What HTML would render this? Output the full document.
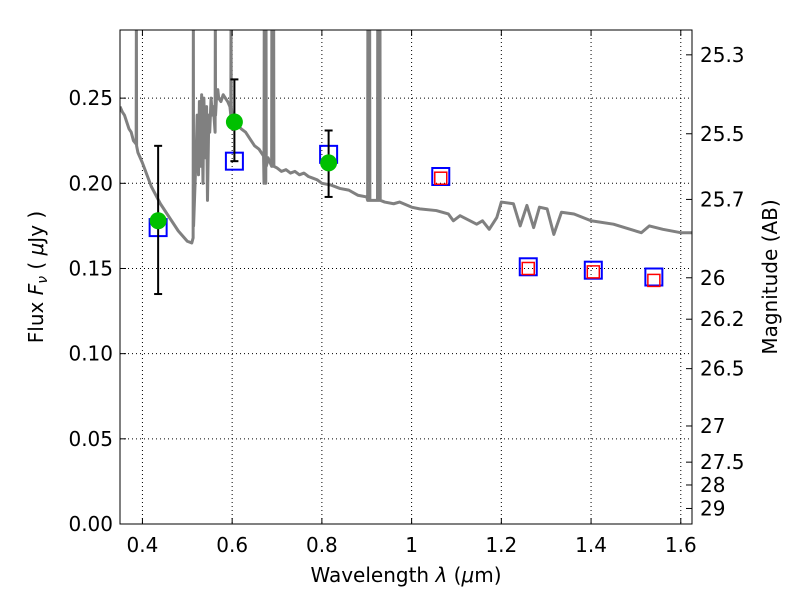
<!DOCTYPE html>
<html><head><meta charset="utf-8"><style>
body{margin:0;background:#fff}
svg text{font-family:"DejaVu Sans","Liberation Sans",sans-serif;font-size:20px;fill:#000}
</style></head><body>
<svg id="chart" width="800" height="600" xmlns="http://www.w3.org/2000/svg">
<rect width="800" height="600" fill="#fff"/>
<g id="grid"></g>
<g id="spec"></g>
<g id="marks"></g>
<g id="axes"></g>
</svg>
<script>
const xTicks=[0.4,0.6,0.8,1.0,1.2,1.4,1.6];
const xTickLabels=["0.4","0.6","0.8","1","1.2","1.4","1.6"];
const yTicks=[0,0.05,0.10,0.15,0.20,0.25];
const yTickLabels=["0.00","0.05","0.10","0.15","0.20","0.25"];
const magTicks=[25.3,25.5,25.7,26,26.2,26.5,27,27.5,28,29];
const magLabels=["25.3","25.5","25.7","26","26.2","26.5","27","27.5","28","29"];
const obsLam=[0.435,0.605,0.815];
const obsFlux=[0.178,0.236,0.212];
const obsLo=[0.135,0.213,0.192];
const obsHi=[0.222,0.261,0.231];
const modLam=[0.435,0.605,0.815,1.065,1.26,1.405,1.54];
const modFlux=[0.174,0.213,0.217,0.204,0.151,0.149,0.145];
const redLam=[1.065,1.26,1.405,1.54];
const redFlux=[0.203,0.150,0.148,0.143];
const specLam=[0.35,0.355,0.36,0.365,0.37,0.375,0.38,0.386,0.3865,0.387,0.39,0.40,0.42,0.44,0.46,0.48,0.50,0.51,0.513,0.5135,0.514,0.516,0.52,0.522,0.525,0.527,0.53,0.532,0.535,0.537,0.54,0.543,0.545,0.548,0.55,0.553,0.556,0.558,0.562,0.5625,0.563,0.565,0.568,0.57,0.575,0.58,0.585,0.59,0.595,0.597,0.5975,0.598,0.60,0.61,0.62,0.63,0.64,0.65,0.66,0.67,0.671,0.6715,0.672,0.674,0.675,0.6755,0.676,0.678,0.68,0.688,0.6885,0.689,0.692,0.6925,0.693,0.70,0.71,0.72,0.73,0.74,0.75,0.76,0.77,0.78,0.79,0.80,0.82,0.84,0.86,0.88,0.90,0.902,0.9025,0.903,0.906,0.9065,0.907,0.915,0.924,0.9245,0.925,0.929,0.9295,0.93,0.94,0.96,0.973,1.0,1.018,1.055,1.082,1.093,1.108,1.145,1.158,1.173,1.19,1.2,1.227,1.242,1.257,1.272,1.285,1.302,1.317,1.334,1.362,1.4,1.45,1.512,1.53,1.56,1.6,1.625];
const specFlux=[0.245,0.242,0.24,0.236,0.232,0.23,0.225,0.223,0.3,0.222,0.218,0.212,0.198,0.188,0.18,0.172,0.166,0.165,0.168,0.3,0.175,0.19,0.22,0.24,0.205,0.248,0.21,0.252,0.2,0.25,0.215,0.245,0.19,0.24,0.23,0.25,0.24,0.245,0.23,0.3,0.24,0.25,0.255,0.25,0.248,0.252,0.25,0.248,0.245,0.24,0.3,0.245,0.24,0.235,0.232,0.23,0.226,0.222,0.22,0.216,0.2,0.3,0.215,0.215,0.2,0.3,0.21,0.212,0.215,0.21,0.3,0.21,0.21,0.3,0.21,0.209,0.207,0.208,0.206,0.207,0.205,0.206,0.204,0.203,0.202,0.2,0.199,0.197,0.196,0.193,0.192,0.19,0.3,0.19,0.19,0.3,0.19,0.19,0.19,0.3,0.19,0.19,0.3,0.19,0.189,0.188,0.189,0.186,0.185,0.184,0.182,0.178,0.181,0.176,0.178,0.173,0.18,0.189,0.188,0.175,0.187,0.174,0.186,0.185,0.170,0.183,0.182,0.178,0.176,0.171,0.175,0.173,0.171,0.171];
const L=120,R=692,T=30,B=524,xmin=0.35,xmax=1.625,ymin=0,ymax=0.29;
const X=v=>L+(v-xmin)/(xmax-xmin)*(R-L);
const Y=v=>B-(v-ymin)/(ymax-ymin)*(B-T);
const NS="http://www.w3.org/2000/svg";
function mk(tag,attrs,parent,txt){const e=document.createElementNS(NS,tag);for(const k in attrs)e.setAttribute(k,attrs[k]);if(txt!=null)e.textContent=txt;document.getElementById(parent).appendChild(e);return e;}
const defs=document.createElementNS(NS,'defs');defs.innerHTML='<clipPath id="cp"><rect x="120" y="30" width="572" height="494"/></clipPath>';document.getElementById('chart').prepend(defs);
document.getElementById('spec').setAttribute('clip-path','url(#cp)');
xTicks.forEach((t,i)=>{
 const g=mk('line',{x1:X(t),x2:X(t),y1:T,y2:B,stroke:'#000','stroke-dasharray':'1,3','stroke-width':1},'grid');
 
 mk('line',{x1:X(t),x2:X(t),y1:B,y2:B-6,stroke:'#000'},'axes');
 mk('line',{x1:X(t),x2:X(t),y1:T,y2:T+6,stroke:'#000'},'axes');
 const lb=mk('text',{x:X(t),y:B+28,'text-anchor':'middle'},'axes',xTickLabels[i]);
 
});
yTicks.forEach((t,i)=>{
 const g=mk('line',{x1:L,x2:R,y1:Y(t),y2:Y(t),stroke:'#000','stroke-dasharray':'1,3','stroke-width':1},'grid');
 
 mk('line',{x1:L,x2:L+6,y1:Y(t),y2:Y(t),stroke:'#000'},'axes');
 const lb=mk('text',{x:L-7,y:Y(t)+7,'text-anchor':'end'},'axes',yTickLabels[i]);
 
});
magTicks.forEach((m,i)=>{
 const f=Math.pow(10,(23.9-m)/2.5);const y=Y(f);
 mk('line',{x1:R,x2:R-6,y1:y,y2:y,stroke:'#000'},'axes');
 const lb=mk('text',{x:R+8,y:y+7,'text-anchor':'start'},'axes',magLabels[i]);
 
});
const sp=mk('polyline',{points:specLam.map((l,i)=>X(l)+','+Y(specFlux[i])).join(' '),fill:'none',stroke:'#808080','stroke-width':3,'stroke-linejoin':'round'},'spec');

modLam.forEach((l,i)=>{
 const s=mk('rect',{x:X(l)-8.5,y:Y(modFlux[i])-8.5,width:17,height:17,fill:'none',stroke:'#0000ff','stroke-width':2},'marks');
 
});
redLam.forEach((l,i)=>{
 const s=mk('rect',{x:X(l)-6,y:Y(redFlux[i])-6,width:12,height:12,fill:'none',stroke:'#ff0000','stroke-width':1.5},'marks');
 
});
obsLam.forEach((l,i)=>{
 const e=mk('line',{x1:X(l),x2:X(l),y1:Y(obsLo[i]),y2:Y(obsHi[i]),stroke:'#000','stroke-width':2},'marks');
 
 mk('line',{x1:X(l)-4,x2:X(l)+4,y1:Y(obsLo[i]),y2:Y(obsLo[i]),stroke:'#000','stroke-width':2},'marks');
 mk('line',{x1:X(l)-4,x2:X(l)+4,y1:Y(obsHi[i]),y2:Y(obsHi[i]),stroke:'#000','stroke-width':2},'marks');
 const c=mk('circle',{cx:X(l),cy:Y(obsFlux[i]),r:8.5,fill:'#00c000'},'marks');
 
});
const fr=mk('rect',{x:L,y:T,width:R-L,height:B-T,fill:'none',stroke:'#000','stroke-width':1},'axes');

const xt=mk('text',{x:406,y:582,'text-anchor':'middle'},'axes');
xt.innerHTML='Wavelength  <tspan font-style="italic">λ</tspan> (<tspan font-style="italic">μ</tspan>m)';

const yt=mk('text',{x:0,y:0,'text-anchor':'middle',transform:'translate(43,277) rotate(-90)'},'axes');
yt.innerHTML='Flux  <tspan font-style="italic">F</tspan><tspan font-style="italic" font-size="14" dy="4">ν</tspan><tspan dy="-4">  ( </tspan><tspan font-style="italic">μ</tspan>Jy )';

const mt=mk('text',{x:0,y:0,'text-anchor':'middle',transform:'translate(777,277) rotate(-90)'},'axes','Magnitude (AB)');

</script>
</body></html>
